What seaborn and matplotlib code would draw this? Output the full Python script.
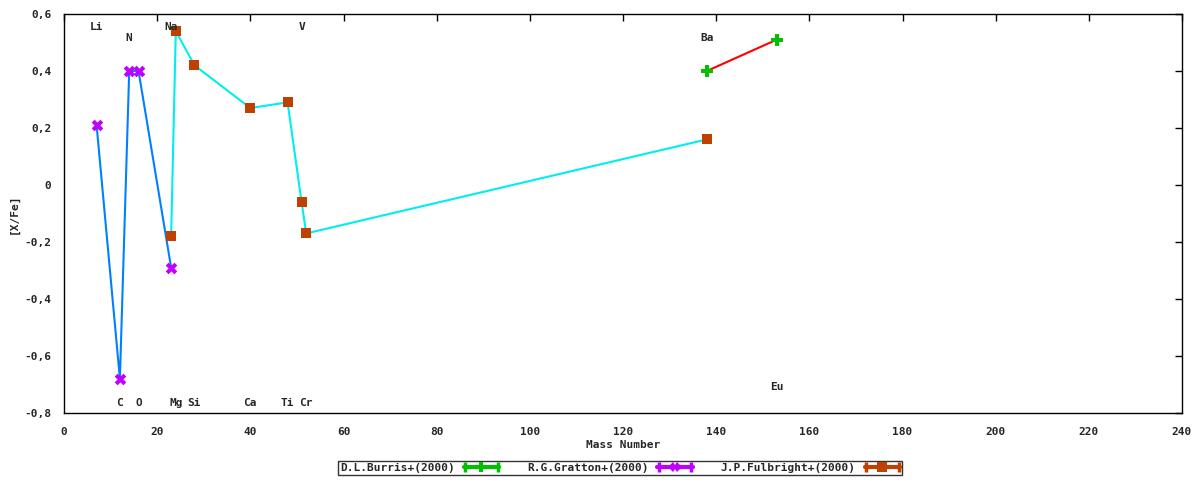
import pandas as pd
import matplotlib
matplotlib.use('Agg')
import matplotlib.pyplot as plt
import seaborn as sns
import numpy as np
from matplotlib.ticker import FuncFormatter, MultipleLocator
from matplotlib.legend_handler import HandlerBase
from matplotlib.lines import Line2D

# Data
burris_mass = [138, 153]
burris_xfe = [0.40, 0.51]

gratton_mass = [7, 12, 14, 16, 23]
gratton_xfe = [0.21, -0.68, 0.40, 0.40, -0.29]

fulbright_mass = [23, 24, 28, 40, 48, 51, 52, 138]
fulbright_xfe = [-0.18, 0.54, 0.42, 0.27, 0.29, -0.06, -0.17, 0.16]

# element labels (name, mass, label height)
elem_names = ['Li', 'N', 'Na', 'V', 'Ba', 'C', 'O', 'Mg', 'Si', 'Ca', 'Ti', 'Cr', 'Eu']
elem_mass = [7, 14, 23, 51, 138, 12, 16, 24, 28, 40, 48, 52, 153]
elem_ypos = [0.555, 0.515, 0.555, 0.555, 0.515, -0.765, -0.765, -0.765, -0.765, -0.765, -0.765, -0.765, -0.71]

series = [
    ('D.L.Burris+(2000)', burris_mass, burris_xfe, '#ff0000', '#00c000', 'P', 70),
    ('R.G.Gratton+(2000)', gratton_mass, gratton_xfe, '#0080ff', '#c000ff', 'X', 70),
    ('J.P.Fulbright+(2000)', fulbright_mass, fulbright_xfe, '#00eeee', '#c04000', 's', 55),
]


# gnuplot-style key sample: thick bar with end caps and the point symbol in the middle
class GnuKeyHandler(HandlerBase):
    def create_artists(self, legend, orig_handle, xdescent, ydescent,
                       width, height, fontsize, trans):
        c = orig_handle.get_color()
        m = orig_handle.get_marker()
        y = height / 2 - ydescent
        x0, x1 = -xdescent, width - xdescent
        bar = Line2D([x0, x1], [y, y], color=c, lw=3, transform=trans)
        caps = Line2D([x0 + 1, x1 - 1], [y, y], ls='none', marker='|', ms=7,
                      mew=2.5, color=c, transform=trans)
        pt = Line2D([(x0 + x1) / 2], [y], ls='none', marker=m, ms=7, mew=0,
                    color=c, transform=trans)
        return [bar, caps, pt]


sns.set_style('white')
plt.rcParams['font.family'] = ['DejaVu Sans Mono', 'DejaVu Sans']
plt.rcParams['font.weight'] = 'bold'

fig = plt.figure(figsize=(12, 4.8), dpi=100)
ax = fig.add_axes([64 / 1200, 1 - 413 / 480, (1182 - 64) / 1200, (413 - 14) / 480])

handles = []
for name, mass, xfe, lcol, mcol, mk, ms in series:
    df = pd.DataFrame({'mass': mass, 'xfe': xfe})
    sns.lineplot(data=df, x='mass', y='xfe', color=lcol, linewidth=1.5,
                 estimator=None, sort=False, ax=ax, zorder=2, legend=False)
    sns.scatterplot(data=df, x='mass', y='xfe', color=mcol, marker=mk, s=ms,
                    linewidth=0, ax=ax, zorder=3, legend=False)
    handles.append(Line2D([], [], color=mcol, marker=mk, label=name))

for nm, m, yp in zip(elem_names, elem_mass, elem_ypos):
    ax.text(m, yp, nm, ha='center', va='center', fontsize=8, fontweight='bold')

ax.set_xlim(0, 240)
ax.set_ylim(-0.8, 0.6)
ax.xaxis.set_major_locator(MultipleLocator(20))
ax.yaxis.set_major_locator(MultipleLocator(0.2))
ax.yaxis.set_major_formatter(FuncFormatter(
    lambda v, p: ('%.1f' % v).replace('.', ',') if abs(v) > 1e-9 else '0'))
ax.tick_params(direction='in', length=5, width=1, top=True, right=True,
               labelsize=8, color='black')
ax.tick_params(axis='x', pad=10)
ax.tick_params(axis='y', pad=9)
for t in ax.get_xticklabels() + ax.get_yticklabels():
    t.set_fontweight('bold')
for sp in ax.spines.values():
    sp.set_color('black')
    sp.set_linewidth(1)
ax.set_xlabel('Mass Number', fontsize=8, fontweight='bold', labelpad=2)
ax.set_ylabel('[X/Fe]', fontsize=8, fontweight='bold', labelpad=4)

leg = fig.legend(handles=handles, loc='center', bbox_to_anchor=(620 / 1200, 1 - 468 / 480),
                 ncol=3, markerfirst=False, frameon=True, fancybox=False,
                 fontsize=8, handlelength=3.2, borderpad=0.2, columnspacing=2.5,
                 handletextpad=0.8, handler_map={Line2D: GnuKeyHandler()})
leg.get_frame().set_edgecolor('black')
leg.get_frame().set_linewidth(1)

fig.savefig('out.png', dpi=100)
